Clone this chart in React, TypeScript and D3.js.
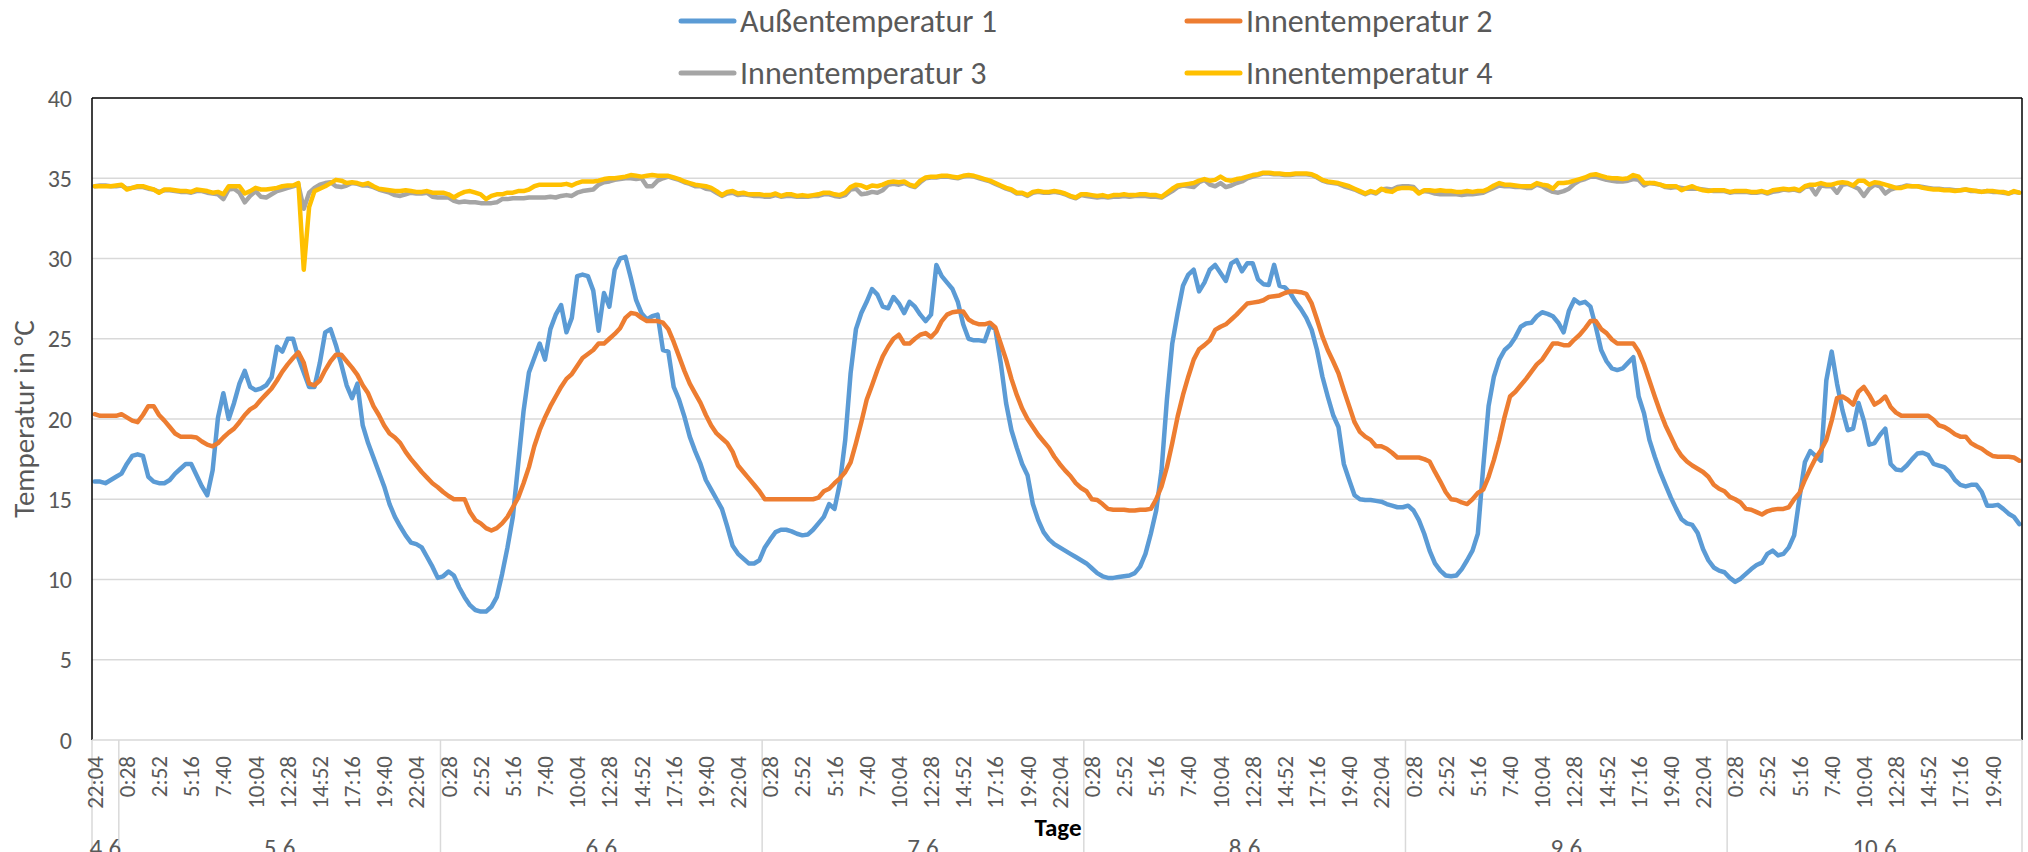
import React from "react";
import * as d3 from "d3";

const W = 2028;
const H = 852;

const seriesNames = ["Außentemperatur 1", "Innentemperatur 2", "Innentemperatur 3", "Innentemperatur 4"];
const seriesColors = ["#5B9BD5", "#ED7D31", "#A5A5A5", "#FFC000"];

// 24-minute samples from 4.6 22:04 to 10.6 21:40
const aussen1 = [
  16.1, 16.1, 16.0, 16.2, 16.4, 16.6, 17.2, 17.7, 17.8, 17.7,
  16.4, 16.1, 16.0, 16.0, 16.2, 16.6, 16.9, 17.2, 17.2, 16.5,
  15.8, 15.25, 16.8, 20.1, 21.6, 20.0, 21.0, 22.2, 23.0, 22.0,
  21.8, 21.9, 22.1, 22.6, 24.5, 24.2, 25.0, 25.0, 23.8, 22.9,
  22.0, 22.0, 23.5, 25.4, 25.6, 24.6, 23.4, 22.1, 21.3, 22.2,
  19.6, 18.5, 17.6, 16.7, 15.8, 14.7, 13.9, 13.3, 12.75, 12.3,
  12.2, 12.0, 11.4, 10.8, 10.1, 10.2, 10.5, 10.25, 9.5, 8.9,
  8.4, 8.1, 8.0, 8.0, 8.3, 8.9, 10.35, 12.0, 13.9, 17.2,
  20.5, 22.9, 23.8, 24.7, 23.7, 25.6, 26.5, 27.1, 25.4, 26.3,
  28.9, 29.0, 28.9, 28.0, 25.5, 27.85, 27.0, 29.3, 30.0, 30.1,
  28.8, 27.4, 26.6, 26.2, 26.4, 26.5, 24.3, 24.2, 22.0, 21.2,
  20.15, 18.9, 18.0, 17.2, 16.2, 15.6, 15.0, 14.4, 13.3, 12.1,
  11.6, 11.3, 11.0, 11.0, 11.2, 12.0, 12.5, 12.95, 13.1, 13.1,
  13.0, 12.85, 12.75, 12.8, 13.1, 13.5, 13.9, 14.7, 14.4, 16.0,
  18.7, 22.85, 25.6, 26.6, 27.3, 28.1, 27.75, 27.0, 26.9, 27.6,
  27.2, 26.6, 27.3, 27.0, 26.5, 26.1, 26.5, 29.6, 28.9, 28.5,
  28.1, 27.3, 25.9, 25.0, 24.9, 24.9, 24.85, 25.8, 25.6, 23.5,
  21.0, 19.3, 18.2, 17.2, 16.5, 14.7, 13.7, 12.95, 12.5, 12.2,
  12.0, 11.8, 11.6, 11.4, 11.2, 11.0, 10.7, 10.4, 10.2, 10.1,
  10.1, 10.15, 10.2, 10.25, 10.4, 10.8, 11.6, 12.85, 14.3, 16.8,
  21.2, 24.7, 26.6, 28.3, 29.0, 29.3, 27.95, 28.5, 29.3, 29.6,
  29.1, 28.6, 29.7, 29.9, 29.2, 29.7, 29.7, 28.7, 28.4, 28.35,
  29.6, 28.3, 28.2, 27.85, 27.3, 26.85, 26.3, 25.55, 24.3, 22.65,
  21.4, 20.25, 19.5, 17.2, 16.2, 15.25, 15.0, 14.95, 14.95, 14.9,
  14.85, 14.7, 14.6, 14.5, 14.5, 14.6, 14.3, 13.7, 12.85, 11.8,
  11.0, 10.55, 10.25, 10.2, 10.25, 10.65, 11.2, 11.8, 12.85, 17.0,
  20.8, 22.65, 23.7, 24.3, 24.6, 25.1, 25.75, 25.95, 26.0, 26.4,
  26.65, 26.55, 26.4, 26.0, 25.4, 26.75, 27.45, 27.2, 27.3, 27.0,
  25.75, 24.3, 23.6, 23.15, 23.05, 23.15, 23.5, 23.85, 21.4, 20.35,
  18.7, 17.65, 16.7, 15.9, 15.1, 14.4, 13.75, 13.5, 13.4, 12.9,
  11.9, 11.2, 10.75, 10.55, 10.45, 10.1, 9.85, 10.05, 10.35, 10.65,
  10.9, 11.05, 11.6, 11.8, 11.5, 11.6, 12.0, 12.75, 15.1, 17.3,
  18.0, 17.7, 17.4, 22.4, 24.2, 22.2, 20.55, 19.3, 19.4, 21.0,
  19.9, 18.4, 18.5, 19.0, 19.4, 17.2, 16.85, 16.8, 17.1, 17.5,
  17.85, 17.9, 17.75, 17.2, 17.1, 17.0, 16.7, 16.2, 15.9, 15.8,
  15.9, 15.9, 15.45, 14.6, 14.6, 14.65, 14.4, 14.1, 13.9, 13.45,
];

const innen2 = [
  20.3, 20.2, 20.2, 20.2, 20.2, 20.3, 20.1, 19.9, 19.8, 20.25,
  20.8, 20.8, 20.25, 19.9, 19.5, 19.1, 18.9, 18.9, 18.9, 18.85,
  18.6, 18.4, 18.3, 18.5, 18.85, 19.15, 19.4, 19.8, 20.25, 20.6,
  20.8, 21.2, 21.55, 21.9, 22.4, 22.95, 23.4, 23.8, 24.15, 23.5,
  22.2, 22.1, 22.4, 23.05, 23.6, 24.0, 24.0, 23.6, 23.2, 22.75,
  22.1, 21.6, 20.8, 20.25, 19.6, 19.1, 18.85, 18.5, 17.95, 17.5,
  17.1, 16.7, 16.35, 16.0, 15.75, 15.45, 15.2, 15.0, 15.0, 15.0,
  14.2, 13.7, 13.5, 13.2, 13.05, 13.2, 13.5, 13.9, 14.5, 15.1,
  16.0, 17.0, 18.3, 19.3, 20.1, 20.8, 21.4, 22.0, 22.5, 22.8,
  23.3, 23.8, 24.05, 24.3, 24.7, 24.7, 25.0, 25.3, 25.65, 26.3,
  26.6, 26.55, 26.3, 26.1, 26.1, 26.1, 26.0, 25.6, 24.8, 23.9,
  23.0, 22.2, 21.6, 21.0, 20.25, 19.6, 19.1, 18.8, 18.5, 17.95,
  17.1, 16.7, 16.3, 15.9, 15.5, 15.0, 15.0, 15.0, 15.0, 15.0,
  15.0, 15.0, 15.0, 15.0, 15.0, 15.1, 15.5, 15.65, 16.0, 16.3,
  16.7, 17.3, 18.5, 19.8, 21.2, 22.1, 23.05, 23.9, 24.5, 25.0,
  25.25, 24.7, 24.7, 25.0, 25.25, 25.35, 25.1, 25.45, 26.1, 26.5,
  26.65, 26.7, 26.7, 26.2, 26.0, 25.9, 25.9, 26.0, 25.7, 24.7,
  23.7, 22.5, 21.5, 20.65, 20.0, 19.5, 19.0, 18.6, 18.2, 17.65,
  17.2, 16.8, 16.45, 16.0, 15.7, 15.5, 15.0, 14.95, 14.7, 14.4,
  14.35, 14.35, 14.35, 14.3, 14.3, 14.35, 14.35, 14.4, 15.0, 15.8,
  17.0, 18.5, 20.15, 21.5, 22.65, 23.7, 24.35, 24.6, 24.9, 25.55,
  25.75, 25.9, 26.2, 26.5, 26.85, 27.2, 27.25, 27.3, 27.4, 27.6,
  27.65, 27.7, 27.85, 27.95, 27.95, 27.9, 27.8, 27.2, 26.2, 25.15,
  24.3, 23.6, 22.85, 21.8, 20.8, 19.8, 19.2, 18.9, 18.7, 18.3,
  18.3, 18.15, 17.9, 17.6, 17.6, 17.6, 17.6, 17.6, 17.5, 17.35,
  16.7, 16.1, 15.45, 15.0, 14.95, 14.8, 14.7, 15.0, 15.4, 15.6,
  16.4, 17.45, 18.7, 20.15, 21.4, 21.7, 22.1, 22.5, 22.95, 23.4,
  23.7, 24.2, 24.7, 24.7, 24.6, 24.6, 24.95, 25.25, 25.65, 26.1,
  26.1, 25.6, 25.35, 24.95, 24.7, 24.7, 24.7, 24.7, 24.2, 23.4,
  22.4, 21.4, 20.45, 19.6, 18.9, 18.2, 17.7, 17.35, 17.1, 16.9,
  16.7, 16.4, 15.9, 15.65, 15.5, 15.15, 15.0, 14.8, 14.4, 14.35,
  14.2, 14.05, 14.25, 14.35, 14.4, 14.4, 14.5, 15.0, 15.4, 16.2,
  16.9, 17.55, 18.05, 18.7, 19.9, 21.3, 21.4, 21.2, 20.9, 21.7,
  22.0, 21.5, 20.9, 21.1, 21.4, 20.75, 20.4, 20.2, 20.2, 20.2,
  20.2, 20.2, 20.2, 19.95, 19.6, 19.5, 19.3, 19.05, 18.9, 18.9,
  18.5, 18.3, 18.15, 17.9, 17.7, 17.65, 17.65, 17.65, 17.6, 17.4,
];

const innen3 = [
  34.5, 34.55, 34.55, 34.5, 34.5, 34.55, 34.35, 34.4, 34.45, 34.45,
  34.35, 34.3, 34.15, 34.25, 34.25, 34.2, 34.15, 34.15, 34.1, 34.2,
  34.2, 34.1, 34.05, 34.0, 33.7, 34.3, 34.35, 34.1, 33.5, 33.9,
  34.2, 33.85, 33.8, 34.0, 34.2, 34.3, 34.4, 34.5, 34.6, 33.1,
  34.1, 34.4, 34.6, 34.7, 34.75, 34.5, 34.45, 34.55, 34.7, 34.65,
  34.55, 34.55, 34.45, 34.3, 34.2, 34.1, 33.95, 33.9, 34.0, 34.1,
  34.05, 34.05, 34.1, 33.85, 33.8, 33.8, 33.8, 33.6, 33.5, 33.55,
  33.5, 33.5, 33.45, 33.45, 33.45, 33.5, 33.7, 33.7, 33.75, 33.75,
  33.75, 33.8, 33.8, 33.8, 33.8, 33.85, 33.8, 33.9, 33.95, 33.9,
  34.1, 34.2, 34.25, 34.3, 34.6, 34.75, 34.8, 34.9, 34.95, 35.0,
  35.0, 34.95, 35.0, 34.5, 34.5, 34.85, 35.0, 35.1, 35.0, 34.9,
  34.75, 34.65, 34.5, 34.5, 34.35, 34.3, 34.1, 33.9, 34.05, 34.1,
  33.95, 34.0, 33.95, 33.9, 33.9, 33.85, 33.85, 33.95, 33.85, 33.9,
  33.9, 33.85, 33.85, 33.85, 33.9, 33.9, 34.0, 34.0, 33.9, 33.85,
  33.95, 34.3, 34.35, 34.0, 34.05, 34.15, 34.1, 34.25, 34.6, 34.65,
  34.6, 34.7, 34.55, 34.45, 34.75, 35.0, 35.05, 35.05, 35.1, 35.1,
  35.05, 35.0, 35.1, 35.15, 35.1, 35.0, 34.9, 34.8, 34.65, 34.5,
  34.35, 34.25, 34.05, 34.05, 33.9, 34.1, 34.15, 34.1, 34.1, 34.15,
  34.1, 34.0, 33.85, 33.75, 33.95, 33.9, 33.85, 33.8, 33.85, 33.8,
  33.85, 33.85, 33.9, 33.85, 33.9, 33.9, 33.9, 33.85, 33.85, 33.8,
  34.0, 34.2, 34.45, 34.55, 34.5, 34.45, 34.75, 34.9, 34.6, 34.5,
  34.7, 34.45, 34.55, 34.7, 34.8, 35.0, 35.1, 35.2, 35.3, 35.3,
  35.25, 35.25, 35.2, 35.2, 35.25, 35.25, 35.25, 35.2, 35.05, 34.85,
  34.75, 34.7, 34.65, 34.5, 34.4, 34.3, 34.15, 34.0, 34.15, 34.05,
  34.3, 34.35, 34.3, 34.45, 34.5, 34.5, 34.45, 34.1, 34.2, 34.15,
  34.05, 34.0, 34.0, 34.0, 34.0, 33.95, 34.0, 34.0, 34.05, 34.1,
  34.25, 34.4, 34.55, 34.5, 34.5, 34.45, 34.45, 34.4, 34.4, 34.6,
  34.5, 34.3, 34.15, 34.1, 34.2, 34.35, 34.65, 34.85, 34.95, 35.1,
  35.1, 35.0, 34.9, 34.85, 34.8, 34.8, 34.85, 34.95, 34.9, 34.55,
  34.7, 34.65, 34.6, 34.45, 34.4, 34.45, 34.4, 34.35, 34.35, 34.35,
  34.3, 34.25, 34.2, 34.2, 34.2, 34.1, 34.15, 34.15, 34.15, 34.1,
  34.1, 34.15, 34.05, 34.15, 34.2, 34.3, 34.25, 34.3, 34.2, 34.45,
  34.5, 34.0, 34.55, 34.5, 34.5, 34.1, 34.6, 34.65, 34.5, 34.35,
  33.9, 34.35, 34.6, 34.5, 34.05, 34.3, 34.4, 34.45, 34.55, 34.5,
  34.5, 34.45, 34.4, 34.35, 34.35, 34.3, 34.3, 34.25, 34.25, 34.3,
  34.2, 34.2, 34.15, 34.2, 34.15, 34.15, 34.1, 34.05, 34.15, 34.1,
];

const innen4 = [
  34.5, 34.5, 34.5, 34.5, 34.55, 34.6, 34.3, 34.4, 34.5, 34.5,
  34.4, 34.3, 34.1, 34.3, 34.3, 34.25, 34.2, 34.2, 34.15, 34.3,
  34.25, 34.2, 34.1, 34.15, 34.0, 34.5, 34.5, 34.5, 34.05, 34.2,
  34.4, 34.3, 34.3, 34.35, 34.4, 34.5, 34.55, 34.55, 34.7, 29.3,
  33.2, 34.2, 34.35, 34.5, 34.7, 34.9, 34.85, 34.7, 34.75, 34.7,
  34.6, 34.7, 34.5, 34.35, 34.3, 34.25, 34.2, 34.2, 34.25, 34.2,
  34.15, 34.15, 34.2, 34.1, 34.1, 34.1, 34.0, 33.8, 34.0, 34.15,
  34.2, 34.1, 34.0, 33.7, 33.9, 34.0, 34.0, 34.1, 34.1, 34.2,
  34.2, 34.3, 34.5, 34.6, 34.6, 34.6, 34.6, 34.6, 34.65, 34.55,
  34.7, 34.8, 34.8, 34.8, 34.85, 34.95, 35.0, 35.0, 35.05, 35.1,
  35.2, 35.15, 35.1, 35.15, 35.2, 35.15, 35.15, 35.15, 35.05, 34.95,
  34.8, 34.7, 34.6, 34.55, 34.5, 34.4, 34.2, 33.95, 34.15, 34.2,
  34.05, 34.1, 34.0, 34.0, 34.0, 33.95, 33.95, 34.05, 33.9, 34.0,
  34.0, 33.9, 33.95, 33.9, 33.95, 34.0, 34.1, 34.1, 34.0, 33.95,
  34.1, 34.45, 34.6, 34.55, 34.4, 34.55, 34.5, 34.6, 34.75, 34.8,
  34.75, 34.8, 34.6, 34.5, 34.85, 35.05, 35.1, 35.1, 35.15, 35.15,
  35.1, 35.05, 35.15, 35.2, 35.15, 35.05, 34.95, 34.85, 34.7, 34.55,
  34.4, 34.3, 34.1, 34.1, 33.95, 34.15, 34.2, 34.15, 34.15, 34.2,
  34.15, 34.05, 33.9, 33.8, 34.0, 34.0, 33.95, 33.9, 33.95, 33.85,
  33.95, 33.95, 34.0, 33.95, 33.95, 34.0, 34.0, 33.95, 33.95, 33.85,
  34.1, 34.35, 34.55, 34.6, 34.65, 34.7, 34.85, 34.95, 34.85, 34.9,
  35.1, 34.9, 34.85, 34.95, 35.0, 35.1, 35.2, 35.25, 35.35, 35.35,
  35.3, 35.3, 35.25, 35.25, 35.3, 35.3, 35.3, 35.25, 35.1, 34.9,
  34.8, 34.75, 34.7, 34.6, 34.5, 34.35, 34.2, 34.05, 34.2, 34.1,
  34.35, 34.2, 34.15, 34.35, 34.4, 34.4, 34.35, 34.05, 34.25, 34.25,
  34.2, 34.25, 34.2, 34.2, 34.15, 34.15, 34.2, 34.15, 34.2, 34.2,
  34.35, 34.55, 34.7, 34.6, 34.6, 34.55, 34.5, 34.5, 34.5, 34.7,
  34.6, 34.55, 34.35, 34.7, 34.7, 34.75, 34.85, 34.95, 35.05, 35.2,
  35.25, 35.15, 35.05, 35.0, 35.0, 34.95, 35.0, 35.2, 35.1, 34.7,
  34.7, 34.7, 34.6, 34.5, 34.5, 34.5, 34.25, 34.4, 34.5, 34.35,
  34.25, 34.2, 34.25, 34.25, 34.25, 34.15, 34.2, 34.2, 34.2, 34.15,
  34.15, 34.2, 34.1, 34.25, 34.3, 34.35, 34.3, 34.35, 34.25, 34.5,
  34.6, 34.6, 34.7, 34.6, 34.6, 34.7, 34.75, 34.7, 34.55, 34.85,
  34.85, 34.6, 34.75, 34.7, 34.6, 34.5, 34.4, 34.4, 34.5, 34.5,
  34.5, 34.4, 34.35, 34.3, 34.3, 34.25, 34.25, 34.2, 34.25, 34.3,
  34.25, 34.2, 34.15, 34.2, 34.2, 34.15, 34.15, 34.05, 34.2, 34.1,
];

const allSeries = [aussen1, innen2, innen3, innen4];

// category axis labels
const dayLabels = ["4.6", "5.6", "6.6", "7.6", "8.6", "9.6", "10.6"];
const dayStartIndex = [0, 5, 65, 125, 185, 245, 305];
const dayTimeTicks = ["0:28", "2:52", "5:16", "7:40", "10:04", "12:28", "14:52", "17:16", "19:40", "22:04"];
const firstTick = ["22:04"];
const lastDayTicks = ["0:28", "2:52", "5:16", "7:40", "10:04", "12:28", "14:52", "17:16", "19:40"];
const timeTickLabels = [
  ...firstTick,
  ...dayTimeTicks, ...dayTimeTicks, ...dayTimeTicks, ...dayTimeTicks, ...dayTimeTicks,
  ...lastDayTicks,
];
const tickEvery = 6;
const yTicks = [0, 5, 10, 15, 20, 25, 30, 35, 40];

const N = aussen1.length;
const FONT = "Carlito, Calibri, Lato, 'Liberation Sans', sans-serif";
const TXT = "#595959";

export default function App() {
  const left = 92, right = 2022, top = 98, bottom = 740;
  const x = d3.scaleBand<number>().domain(d3.range(N)).range([left, right]).padding(0);
  const bw = x.bandwidth();
  const cx = (i: number) => (x(i) as number) + bw / 2;
  const y = d3.scaleLinear().domain([0, 40]).range([bottom, top]);
  const line = d3.line<number>().x((_, i) => cx(i)).y((d) => y(d));

  const sepIdx = [...dayStartIndex, N];
  const sepX = (k: number) => (k >= N ? right : (x(k) as number));

  const legendRows = [
    { y: 21, items: [0, 1] },
    { y: 73, items: [2, 3] },
  ];
  const legendX = [681, 1187];

  return (
    <svg width={W} height={H} style={{ position: "absolute", left: 0, top: 0, background: "#fff" }} fontFamily={FONT}>
      <rect x={0} y={0} width={W} height={H} fill="#fff" />
      {/* gridlines */}
      {yTicks.filter((t) => t > 0 && t < 40).map((t) => (
        <line key={t} x1={left} x2={right} y1={y(t)} y2={y(t)} stroke="#d9d9d9" strokeWidth={1.5} />
      ))}
      {/* series */}
      {allSeries.map((s, k) => (
        <path key={k} d={line(s) || ""} fill="none" stroke={seriesColors[k]} strokeWidth={4.5}
          strokeLinejoin="round" strokeLinecap="round" />
      ))}
      {/* plot border */}
      <line x1={left} x2={right} y1={top} y2={top} stroke="#000" strokeWidth={1.5} />
      <line x1={left} x2={left} y1={top} y2={bottom} stroke="#000" strokeWidth={1.5} />
      <line x1={right} x2={right} y1={top} y2={bottom} stroke="#000" strokeWidth={1.5} />
      <line x1={left} x2={right} y1={bottom} y2={bottom} stroke="#d9d9d9" strokeWidth={1.5} />
      {/* y tick labels */}
      {yTicks.map((t) => (
        <text key={t} x={72} y={y(t)} textAnchor="end" dominantBaseline="central" fontSize={24} fill={TXT}>{t}</text>
      ))}
      <text transform={`translate(24,${(top + bottom) / 2}) rotate(-90)`} textAnchor="middle" dominantBaseline="central"
        fontSize={29} fill={TXT}>Temperatur in °C</text>
      {/* day separators */}
      {sepIdx.map((k) => (
        <line key={k} x1={sepX(k)} x2={sepX(k)} y1={bottom} y2={H} stroke="#d9d9d9" strokeWidth={1.5} />
      ))}
      {/* time labels */}
      {timeTickLabels.map((lab, j) => {
        const i = j * tickEvery;
        const xx = cx(i);
        return (
          <text key={j} transform={`translate(${xx},756) rotate(-90)`} textAnchor="end" dominantBaseline="central"
            fontSize={23} fill={TXT}>{lab}</text>
        );
      })}
      {/* day labels (partly cut by the bottom edge, as in the original) */}
      {dayLabels.map((d, j) => {
        const a = sepX(sepIdx[j]);
        const b = sepX(sepIdx[j + 1]);
        return (
          <text key={d} x={(a + b) / 2} y={856} textAnchor="middle" fontSize={25} fill={TXT}>{d}</text>
        );
      })}
      <text x={1058} y={836} textAnchor="middle" fontSize={25} fontWeight="bold" fill="#000">Tage</text>
      {/* legend */}
      {legendRows.map((r) =>
        r.items.map((k, c) => (
          <g key={k}>
            <line x1={legendX[c]} x2={legendX[c] + 53} y1={r.y} y2={r.y} stroke={seriesColors[k]} strokeWidth={5} strokeLinecap="round" />
            <text x={legendX[c] + 59} y={r.y} dominantBaseline="central" fontSize={32} fill={TXT}>{seriesNames[k]}</text>
          </g>
        ))
      )}
    </svg>
  );
}
